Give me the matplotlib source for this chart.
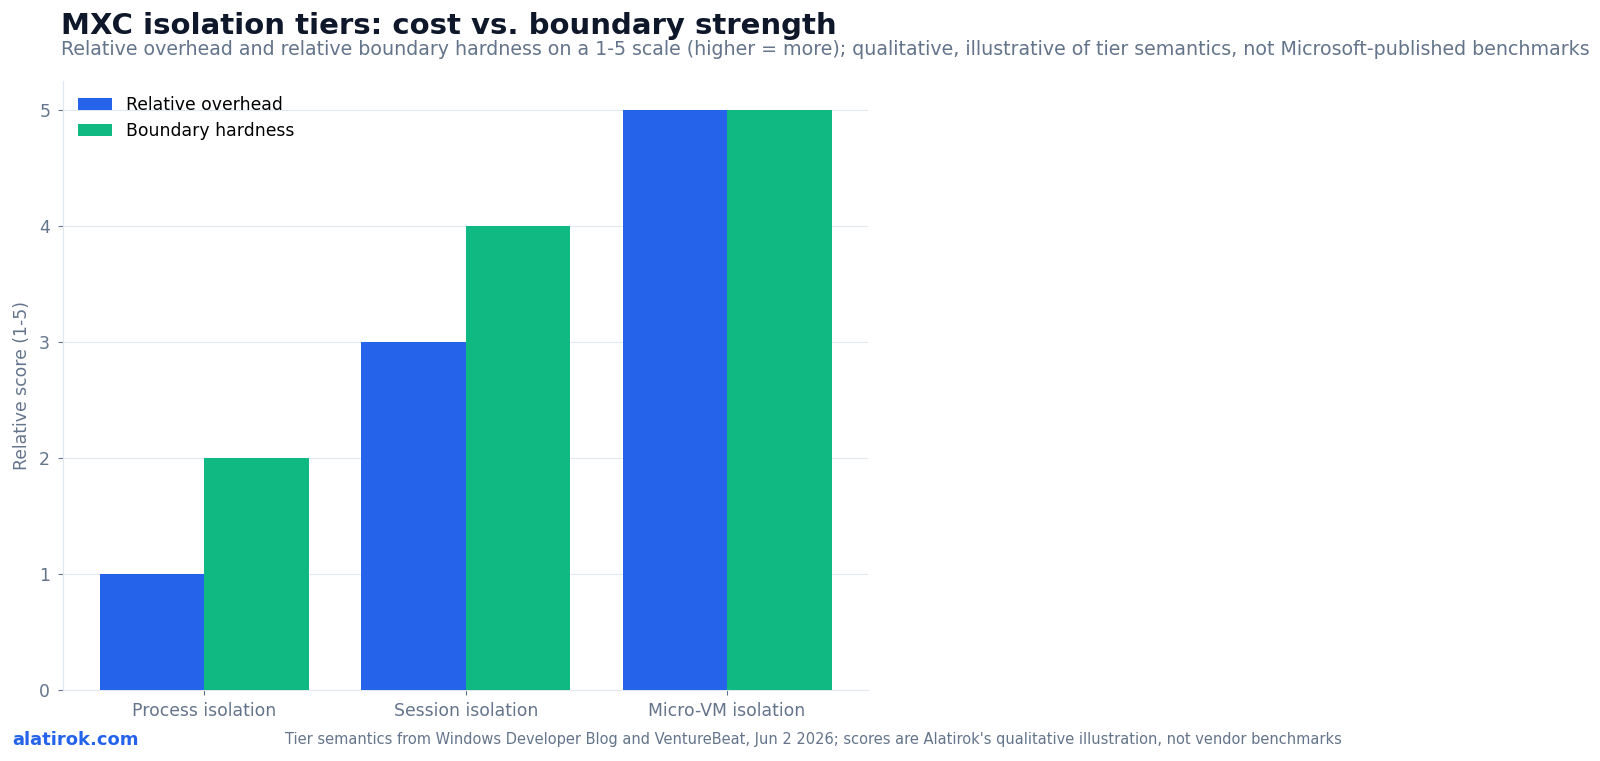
import numpy as np
import matplotlib.pyplot as plt

tiers = ["Process isolation", "Session isolation", "Micro-VM isolation"]
overhead = [1, 3, 5]
hardness = [2, 4, 5]

blue = "#2563EB"
green = "#10B981"
slate = "#64748B"
dark = "#0F172A"
light = "#E2E8F0"

plt.rcParams["font.family"] = "DejaVu Sans"

fig = plt.figure(figsize=(16, 7.61), dpi=100)
ax = fig.add_axes([0.0396, 0.0933, 0.503, 0.800])

x = np.arange(len(tiers))
w = 0.4
ax.bar(x - w / 2, overhead, w, color=blue, label="Relative overhead", zorder=3)
ax.bar(x + w / 2, hardness, w, color=green, label="Boundary hardness", zorder=3)

ax.set_ylim(0, 5.25)
ax.set_yticks([0, 1, 2, 3, 4, 5])
ax.set_xticks(x)
ax.set_xticklabels(tiers)
ax.grid(axis="y", color=light, linewidth=0.8, zorder=0)
ax.set_axisbelow(True)
for s in ["top", "right"]:
    ax.spines[s].set_visible(False)
for s in ["left", "bottom"]:
    ax.spines[s].set_color(light)
ax.tick_params(colors=slate, labelsize=12.4)
ax.tick_params(axis="y", pad=6)
ax.tick_params(axis="x", pad=5)
ax.tick_params(axis="both", color=slate)
ax.set_ylabel("Relative score (1-5)", color=slate, fontsize=12.4, labelpad=6)

ax.legend(loc="upper left", frameon=False, fontsize=12.4, borderaxespad=0.45)

fig.text(0.038, 0.966, "MXC isolation tiers: cost vs. boundary strength",
         fontsize=21, fontweight="bold", color=dark, va="center")
fig.text(0.038, 0.935, "Relative overhead and relative boundary hardness on a 1-5 scale (higher = more); "
         "qualitative, illustrative of tier semantics, not Microsoft-published benchmarks",
         fontsize=13.65, color=slate, va="center")
fig.text(0.0075, 0.028, "alatirok.com", fontsize=13, fontweight="bold", color=blue, va="center")
fig.text(0.178, 0.028, "Tier semantics from Windows Developer Blog and VentureBeat, Jun 2 2026; "
         "scores are Alatirok's qualitative illustration, not vendor benchmarks",
         fontsize=10.5, color=slate, va="center")

plt.savefig("out.png", dpi=100)
